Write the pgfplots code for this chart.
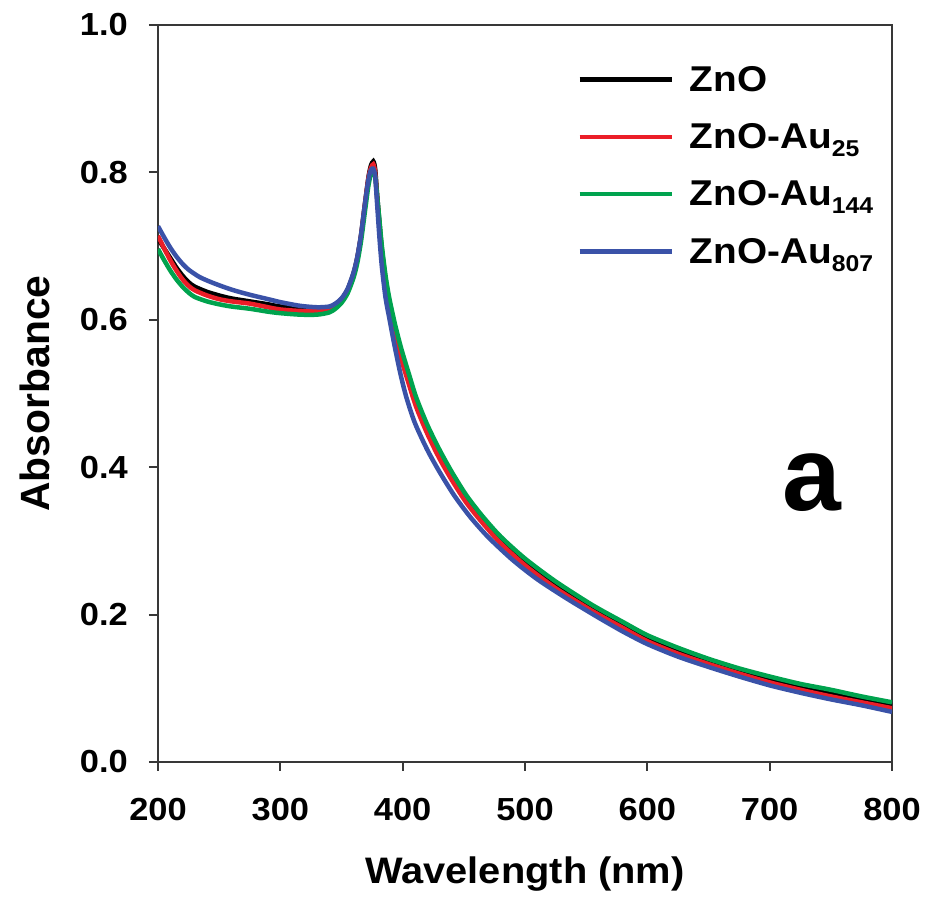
\documentclass[border=0pt]{standalone}
\usepackage{fontspec}
\setmainfont{Liberation Sans}
\newfontfamily\widesans{Liberation Sans}[FakeStretch=1.08]
\usepackage{pgfplots}
\pgfplotsset{compat=1.18}
\usepackage{pgfplotstable}

\definecolor{cZnO}{RGB}{0,0,0}
\definecolor{cAuA}{RGB}{235,30,40}
\definecolor{cAuB}{RGB}{0,163,78}
\definecolor{cAuC}{RGB}{58,82,168}

% UV-vis absorbance spectra (wavelength in nm, absorbance)
\pgfplotstableread{
wl A
200 0.710
205 0.697
210 0.684
215 0.671
220 0.660
225 0.651
230 0.645
240 0.638
250 0.633
260 0.629
275 0.625
290 0.621
300 0.618
316 0.616
330 0.615
340 0.617
345 0.621
350 0.628
355 0.641
360 0.664
363 0.685
366 0.715
369 0.755
372 0.793
374 0.809
376 0.815
377.5 0.805
379 0.772
381 0.732
383 0.695
386 0.655
389 0.625
394 0.587
399 0.554
405 0.521
411 0.490
420 0.453
430 0.419
440 0.390
452 0.358
465 0.330
480 0.302
500 0.272
525 0.241
555 0.209
580 0.186
600 0.168
625 0.151
650 0.136
675 0.123
700 0.112
725 0.102
750 0.094
775 0.085
800 0.077
}\tblZnO

\pgfplotstableread{
wl A
200 0.714
205 0.697
210 0.681
215 0.667
220 0.655
225 0.646
230 0.640
240 0.633
250 0.628
260 0.625
275 0.622
290 0.617
300 0.614
316 0.612
330 0.612
340 0.615
345 0.620
350 0.627
355 0.640
360 0.663
363 0.684
366 0.714
369 0.754
372 0.792
374 0.806
376 0.811
377.5 0.800
379 0.768
381 0.725
383 0.688
386 0.645
389 0.617
394 0.580
399 0.546
405 0.513
411 0.482
420 0.446
430 0.412
440 0.383
452 0.352
465 0.325
480 0.297
500 0.267
525 0.236
555 0.205
580 0.182
600 0.164
625 0.147
650 0.133
675 0.120
700 0.108
725 0.098
750 0.089
775 0.081
800 0.073
}\tblAuA

\pgfplotstableread{
wl A
200 0.696
205 0.681
210 0.667
215 0.655
220 0.645
225 0.637
230 0.631
240 0.625
250 0.621
260 0.618
275 0.615
290 0.611
300 0.609
316 0.607
330 0.607
340 0.610
345 0.615
350 0.623
355 0.636
360 0.658
363 0.678
366 0.707
369 0.745
372 0.782
374 0.797
376 0.800
377.5 0.795
379 0.770
381 0.735
383 0.700
386 0.660
389 0.630
394 0.592
399 0.560
405 0.527
411 0.495
420 0.458
430 0.424
440 0.394
452 0.362
465 0.334
480 0.306
500 0.276
525 0.245
555 0.213
580 0.190
600 0.172
625 0.155
650 0.140
675 0.127
700 0.116
725 0.106
750 0.098
775 0.089
800 0.081
}\tblAuB

\pgfplotstableread{
wl A
200 0.727
205 0.712
210 0.698
215 0.686
220 0.676
225 0.668
234 0.658
245 0.650
260 0.641
275 0.634
290 0.628
300 0.624
316 0.619
330 0.617
340 0.618
345 0.622
350 0.629
355 0.642
360 0.665
363 0.686
366 0.716
369 0.755
372 0.790
374 0.803
376 0.805
377.5 0.795
379 0.760
381 0.712
383 0.672
386 0.630
389 0.603
393 0.568
398 0.528
403 0.495
410 0.460
420 0.424
430 0.394
442 0.362
455 0.333
470 0.305
490 0.274
510 0.248
534 0.222
560 0.196
580 0.177
600 0.160
625 0.143
650 0.129
675 0.116
700 0.104
725 0.094
750 0.085
775 0.077
800 0.068
}\tblAuC

\newcommand{\sub}[1]{\smash{\raisebox{-8bp}{\fontsize{23}{23}\selectfont #1}}}

\begin{document}
\begin{tikzpicture}
\useasboundingbox (-158bp,-141bp) rectangle (768bp,762bp);
\begin{axis}[
  scale only axis,
  width=734bp, height=737bp,
  xmin=200, xmax=800, ymin=0, ymax=1,
  xtick={200,300,400,500,600,700,800},
  xticklabels={200,300,400,500,600,700,800},
  ytick={0,0.2,0.4,0.6,0.8,1},
  yticklabels={0.0,0.2,0.4,0.6,0.8,1.0},
  xtick pos=bottom, ytick pos=left,
  tick align=outside,
  major tick length=9bp,
  minor tick num=0,
  axis line style={black!78, line width=1.8bp},
  tick style={black!78, line width=1.8bp},
  /pgf/number format/assume math mode=true,
  xticklabel style={font=\widesans\bfseries\fontsize{32}{32}\selectfont, inner sep=0pt},
  yticklabel style={font=\widesans\bfseries\fontsize{32}{32}\selectfont, inner sep=0pt},
  xticklabel shift=27bp,
  yticklabel shift=21bp,
  xlabel={Wavelength (nm)},
  ylabel={Absorbance},
  xlabel style={font=\widesans\bfseries\fontsize{37}{37}\selectfont, inner sep=0pt,
    at={(axis description cs:0.5,-0.1290)}, anchor=north},
  ylabel style={font=\bfseries\fontsize{41}{41}\selectfont, inner sep=0pt,
    at={(axis description cs:-0.1471,0.5)}, anchor=south},
  legend cell align=left,
  legend style={
    at={(axis cs:542.9,0.944)}, anchor=north west,
    draw=none, fill=none, inner sep=0pt, outer sep=0pt,
    font=\widesans\bfseries\fontsize{36}{36}\selectfont,
    row sep=30.8bp, column sep=0bp,
    nodes={inner sep=0pt},
  },
  legend image code/.code={\draw[#1] (0bp,0bp) -- (92bp,0bp);},
  every axis plot/.append style={line width=4.5bp, smooth, tension=0.45},
  clip=true,
]
\addplot[color=cZnO] table[x=wl, y=A] {\tblZnO};
\addlegendentry{\hspace{16bp}ZnO}
\addplot[color=cAuA] table[x=wl, y=A] {\tblAuA};
\addlegendentry{\hspace{16bp}ZnO-Au\sub{25}}
\addplot[color=cAuB] table[x=wl, y=A] {\tblAuB};
\addlegendentry{\hspace{16bp}ZnO-Au\sub{144}}
\addplot[color=cAuC] table[x=wl, y=A] {\tblAuC};
\addlegendentry{\hspace{16bp}ZnO-Au\sub{807}}
\node[anchor=base west, inner sep=0pt, font=\bfseries\fontsize{106}{106}\selectfont]
  at (axis cs:710.2,0.3406) {a};
\end{axis}
\end{tikzpicture}
\end{document}
